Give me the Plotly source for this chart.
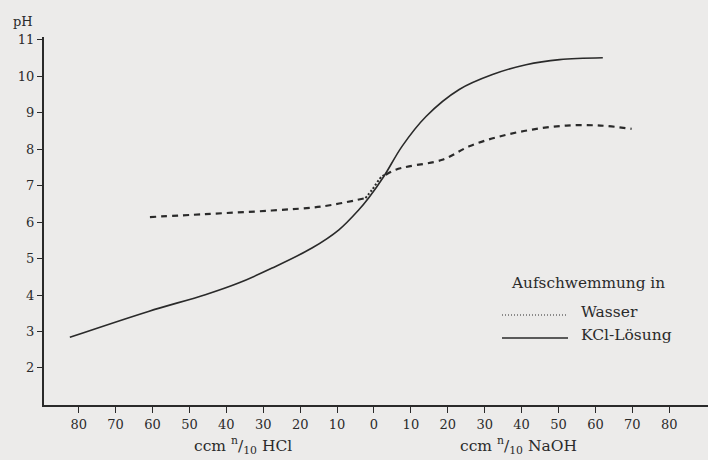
import plotly.graph_objects as go

# ccm n/10 HCl shown as negative x, ccm n/10 NaOH as positive x
kcl_x = [-82.4, -61.1, -45.7, -36.7, -27.6, -16.8, -9.5, -4.1, -1.4, 2.7, 7.6, 14.1, 23.1, 32.1, 41.2, 50.3, 62.0]
kcl_ph = [2.84, 3.55, 4.01, 4.33, 4.74, 5.29, 5.79, 6.34, 6.67, 7.26, 8.08, 8.90, 9.64, 10.05, 10.32, 10.46, 10.51]

wasser_a_x = [-60.7, -45.7, -27.7, -14.1, -2.3]
wasser_a_ph = [6.14, 6.22, 6.32, 6.43, 6.66]
wasser_dot_x = [-2.3, -0.5, 2.2, 3.2]
wasser_dot_ph = [6.66, 6.89, 7.26, 7.30]
wasser_b_x = [3.2, 5.9, 9.5, 18.5, 25.8, 34.0, 42.9, 52.1, 61.4, 69.8]
wasser_b_ph = [7.30, 7.44, 7.53, 7.71, 8.08, 8.35, 8.54, 8.65, 8.65, 8.56]

x_ticks = [-80, -70, -60, -50, -40, -30, -20, -10, 0, 10, 20, 30, 40, 50, 60, 70, 80]
x_labels = [str(abs(v)) for v in x_ticks]
y_ticks = [2, 3, 4, 5, 6, 7, 8, 9, 10, 11]

W, H = 708, 460
L, R, T, B = 44, 0, 37, 55
PW, PH = W - L - R, H - T - B


def px(x):
    return (x - L) / PW


def py(y):
    return (H - B - y) / PH


FONT = "DejaVu Serif, Liberation Serif, serif"
INK = "#2a2a2a"

fig = go.Figure()
fig.add_trace(go.Scatter(x=kcl_x, y=kcl_ph, mode="lines", line=dict(color=INK, width=1.6, shape="spline"),
                         showlegend=False))
fig.add_trace(go.Scatter(x=wasser_a_x, y=wasser_a_ph, mode="lines",
                         line=dict(color=INK, width=2.2, dash="6px,5px", shape="spline"), showlegend=False))
fig.add_trace(go.Scatter(x=wasser_dot_x, y=wasser_dot_ph, mode="lines",
                         line=dict(color=INK, width=2, dash="2px,2px", shape="spline"), showlegend=False))
fig.add_trace(go.Scatter(x=wasser_b_x, y=wasser_b_ph, mode="lines",
                         line=dict(color=INK, width=2.2, dash="6px,5px", shape="spline"), showlegend=False))

fig.update_layout(
    width=W, height=H,
    margin=dict(l=L, r=R, t=T, b=B),
    paper_bgcolor="#ecebea", plot_bgcolor="#ecebea",
    font=dict(family=FONT, size=13, color=INK),
    xaxis=dict(range=[-89.4, 90.5], tickvals=x_ticks, ticktext=x_labels, showgrid=False, zeroline=False,
               showline=True, linecolor=INK, linewidth=2, ticks="outside", ticklen=6, tickwidth=1.3,
               tickcolor=INK, fixedrange=True, tickfont=dict(family=FONT, size=13, color=INK)),
    yaxis=dict(range=[0.983, 11.08], tickvals=y_ticks, showgrid=False, zeroline=False,
               showline=True, linecolor=INK, linewidth=2, ticks="outside", ticklen=5, tickwidth=1.3,
               tickcolor=INK, fixedrange=True, tickfont=dict(family=FONT, size=13, color=INK)),
)

ann = [
    dict(text="pH", x=px(11), y=py(21), xanchor="left", yanchor="middle", size=13),
    dict(text="ccm <sup>n</sup>/<sub>10</sub> HCl", x=px(243), y=py(446), xanchor="center", yanchor="middle", size=15.5),
    dict(text="ccm <sup>n</sup>/<sub>10</sub> NaOH", x=px(518), y=py(446), xanchor="center", yanchor="middle", size=15.5),
    dict(text="Aufschwemmung in", x=px(509), y=py(283), xanchor="left", yanchor="middle", size=15.3),
    dict(text="Wasser", x=px(579), y=py(312), xanchor="left", yanchor="middle", size=15.5),
    dict(text="KCl-Lösung", x=px(579), y=py(335), xanchor="left", yanchor="middle", size=15.5),
]
for a in ann:
    size = a.pop("size", 14)
    fig.add_annotation(xref="paper", yref="paper", showarrow=False, font=dict(family=FONT, size=size, color=INK), **a)

fig.add_shape(type="line", xref="paper", yref="paper", x0=px(502), x1=px(568), y0=py(315), y1=py(315),
              line=dict(color=INK, width=1.2, dash="1px,2px"))
fig.add_shape(type="line", xref="paper", yref="paper", x0=px(502), x1=px(568), y0=py(338), y1=py(338),
              line=dict(color=INK, width=1.4))

fig.write_html("out.html", config={"displayModeBar": False},
               post_script="document.body.style.margin='0';")
